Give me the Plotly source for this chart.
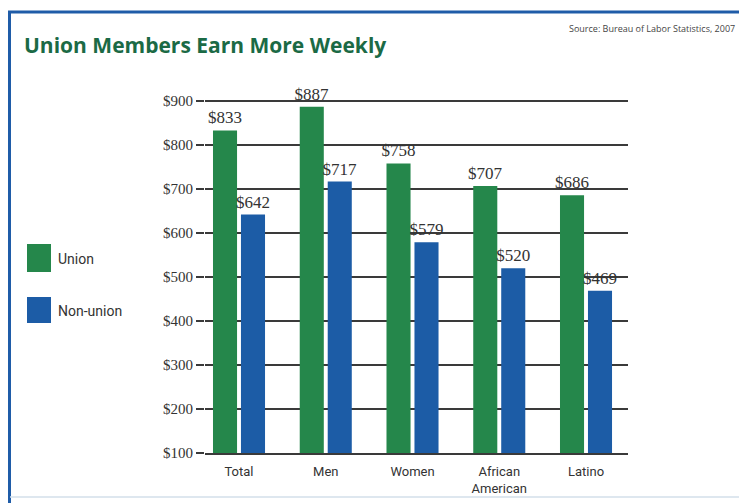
import plotly.graph_objects as go

categories = ["Total", "Men", "Women", "African<br>American", "Latino"]
union = [833, 887, 758, 707, 686]
non_union = [642, 717, 579, 520, 469]
y_ticks = [100, 200, 300, 400, 500, 600, 700, 800, 900]
y_tick_labels = ["$" + str(v) for v in y_ticks]

GREEN = "#25874b"
BLUE = "#1c5ca6"
TXT = "#333333"
GRID = "#3a3a3a"

W, H = 739, 503
L, R, T, B = 205, 111, 90, 50
PW, PH = W - L - R, H - T - B

def px(x):
    return (x - L) / PW

def py(y):
    return (H - B - y) / PH

label_font = dict(family="Liberation Serif", size=17, color=TXT)

fig = go.Figure()
fig.add_trace(go.Bar(
    name="Union", x=categories, y=union, marker_color=GREEN, marker_line_width=0,
    text=["$" + str(v) for v in union], textposition="outside", constraintext="none",
    textfont=label_font, outsidetextfont=label_font, cliponaxis=False,
))
fig.add_trace(go.Bar(
    name="Non-union", x=categories, y=non_union, marker_color=BLUE, marker_line_width=0,
    text=["$" + str(v) for v in non_union], textposition="outside", constraintext="none",
    textfont=label_font, outsidetextfont=label_font, cliponaxis=False,
))

shapes = [
    # frame
    dict(type="line", xref="paper", yref="paper", x0=px(8), x1=px(739), y0=py(12), y1=py(12),
         line=dict(color="#1f5ca8", width=3)),
    dict(type="line", xref="paper", yref="paper", x0=px(9.5), x1=px(9.5), y0=py(11), y1=py(503),
         line=dict(color="#1f5ca8", width=3)),
    dict(type="line", xref="paper", yref="paper", x0=px(10), x1=px(739), y0=py(497), y1=py(497),
         line=dict(color="#d3dfea", width=1.5)),
    # legend swatches
    dict(type="rect", xref="paper", yref="paper", x0=px(27), x1=px(51), y0=py(244), y1=py(272),
         fillcolor=GREEN, line_width=0),
    dict(type="rect", xref="paper", yref="paper", x0=px(27), x1=px(51), y0=py(297), y1=py(323),
         fillcolor=BLUE, line_width=0),
]

annotations = [
    dict(text="<b>Union Members Earn More Weekly</b>", xref="paper", yref="paper",
         x=px(22), y=py(45), xanchor="left", yanchor="middle", showarrow=False,
         font=dict(family="Open Sans", size=21, color="#1b6a45")),
    dict(text="Source: Bureau of Labor Statistics, 2007", xref="paper", yref="paper",
         x=px(737), y=py(28), xanchor="right", yanchor="middle", showarrow=False,
         font=dict(family="Open Sans", size=9, color="#444444")),
    dict(text="Union", xref="paper", yref="paper", x=px(56), y=py(259),
         xanchor="left", yanchor="middle", showarrow=False,
         font=dict(family="Liberation Sans Narrow, Roboto", size=14, color=TXT)),
    dict(text="Non-union", xref="paper", yref="paper", x=px(56), y=py(311),
         xanchor="left", yanchor="middle", showarrow=False,
         font=dict(family="Liberation Sans Narrow, Roboto", size=14, color=TXT)),
]

fig.update_layout(
    width=W, height=H,
    margin=dict(l=L, r=R, t=T, b=B, pad=0, autoexpand=False),
    paper_bgcolor="white", plot_bgcolor="white",
    barmode="group", bargap=0.355, bargroupgap=0.14,
    showlegend=False,
    shapes=shapes, annotations=annotations,
    xaxis=dict(
        type="category", range=[-0.392, 4.484], showgrid=False,
        showline=True, linecolor=GRID, linewidth=1.5,
        ticks="", ticklabelstandoff=6, automargin=False,
        tickfont=dict(family="Liberation Sans Narrow, Roboto", size=13, color=TXT),
        fixedrange=True,
    ),
    yaxis=dict(
        range=[100, 925], tickvals=y_ticks, ticktext=y_tick_labels,
        showgrid=True, gridcolor=GRID, gridwidth=1.5, automargin=False,
        ticks="outside", ticklen=8, tickcolor=GRID, tickwidth=1.5,
        tickfont=dict(family="Liberation Serif", size=15, color=TXT),
        zeroline=False, showline=False,
    ),
)

fig.write_html("out.html")
